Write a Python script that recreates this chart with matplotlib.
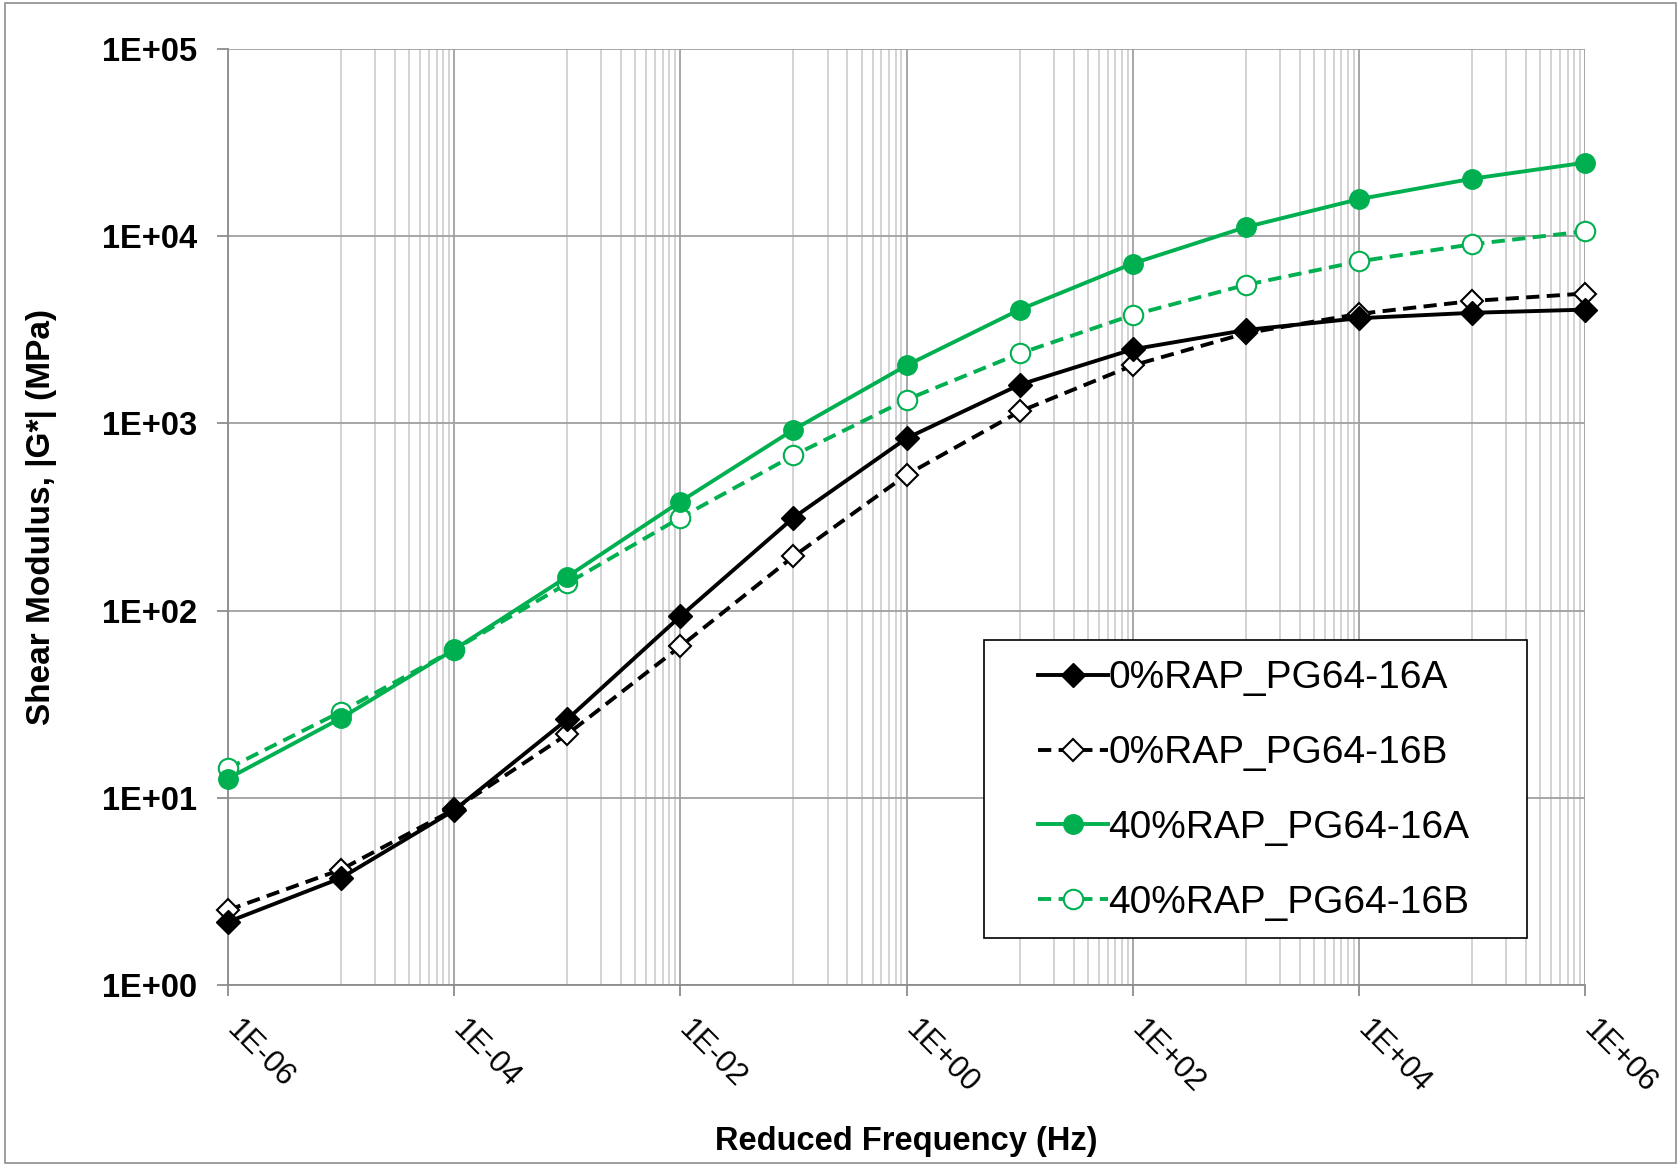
#!/usr/bin/env python3
"""
Shear modulus master curves, |G*| vs reduced frequency.
"""

import matplotlib
matplotlib.use("Agg")
import matplotlib.pyplot as plt
from matplotlib.patches import Rectangle
from matplotlib.ticker import FixedLocator, NullFormatter


GREEN = "#00B050"

freq_hz = [1e-6, 1e-5, 1e-4, 1e-3, 1e-2, 1e-1, 1e0, 1e1, 1e2, 1e3, 1e4, 1e5, 1e6]

g_0rap_a = [2.18, 3.74, 8.6, 26.3, 93.4, 314, 834, 1611, 2489, 3157, 3650, 3900, 4055]
g_0rap_b = [2.52, 4.15, 8.7, 21.9, 64.5, 195, 532, 1159, 2042, 3034, 3850, 4510, 4944]
g_40rap_a = [12.7, 26.7, 62.1, 152, 383, 926, 2043, 4055, 7150, 11190, 15780, 20280, 24720]
g_40rap_b = [14.4, 28.9, 62.0, 140, 314, 675, 1341, 2365, 3800, 5500, 7340, 9060, 10620]

x_major_exp = [-6, -4, -2, 0, 2, 4, 6]
y_major_exp = [0, 1, 2, 3, 4, 5]


def e_label(e: int) -> str:
    return f"1E{e:+03d}"


def main() -> None:
    plt.rcParams["font.family"] = ["Liberation Sans", "DejaVu Sans"]

    fig = plt.figure(figsize=(16.81, 11.66), dpi=100)
    ax = fig.add_axes([0.1356, 0.155, 0.8074, 0.803])

    # chart-area border like the spreadsheet export
    fig.patches.append(Rectangle((0.003, 0.003), 0.994, 0.994, transform=fig.transFigure,
                                 fill=False, edgecolor="#8c8c8c", linewidth=1.2))

    ax.set_xscale("log")
    ax.set_yscale("log")
    ax.set_xlim(1e-6, 1e6)
    ax.set_ylim(1, 1e5)

    # major ticks every two decades, minor grid 1..9 x the odd decade in between
    ax.xaxis.set_major_locator(FixedLocator([10.0 ** e for e in x_major_exp]))
    ax.xaxis.set_major_formatter(NullFormatter())
    minor = []
    for e in x_major_exp[:-1]:
        minor += [k * 10.0 ** (e + 1) for k in range(1, 10)]
    ax.xaxis.set_minor_locator(FixedLocator(minor))
    ax.xaxis.set_minor_formatter(NullFormatter())

    ax.yaxis.set_major_locator(FixedLocator([10.0 ** e for e in y_major_exp]))
    ax.set_yticklabels([e_label(e) for e in y_major_exp])
    ax.yaxis.set_minor_locator(FixedLocator([]))

    ax.grid(True, which="major", color="#a0a0a0", linewidth=1.3)
    ax.grid(True, which="minor", axis="x", color="#c8c8c8", linewidth=1.1)
    ax.set_axisbelow(True)

    for side in ("top", "right"):
        ax.spines[side].set_visible(False)
    for side in ("left", "bottom"):
        ax.spines[side].set_color("#8c8c8c")
        ax.spines[side].set_linewidth(1.3)

    ax.tick_params(axis="both", which="major", direction="out", length=8, width=1.3,
                   color="#8c8c8c")
    ax.tick_params(axis="y", labelsize=23.5, pad=14)
    ax.tick_params(axis="x", which="minor", length=0)
    for lbl in ax.get_yticklabels():
        lbl.set_fontweight("bold")

    # slanted x labels hanging from the tick
    for e in x_major_exp:
        ax.annotate(e_label(e), xy=(10.0 ** e, 0), xycoords=("data", "axes fraction"),
                    xytext=(10, -21), textcoords="offset points", fontsize=22,
                    rotation=-45, ha="left", va="top", rotation_mode="anchor",
                    annotation_clip=False)

    lw = 2.8
    dash = (3.4, 1.9)
    ax.plot(freq_hz, g_0rap_a, "-", color="black", linewidth=lw, marker="D", markersize=12,
            markerfacecolor="black", markeredgecolor="black", clip_on=False, zorder=4,
            label="0%RAP_PG64-16A")
    ax.plot(freq_hz, g_0rap_b, "--", color="black", linewidth=lw, dashes=dash, marker="D",
            markersize=11, markerfacecolor="white", markeredgecolor="black", markeredgewidth=1.5,
            clip_on=False, zorder=3, label="0%RAP_PG64-16B")
    ax.plot(freq_hz, g_40rap_a, "-", color=GREEN, linewidth=lw, marker="o", markersize=14,
            markerfacecolor=GREEN, markeredgecolor=GREEN, clip_on=False, zorder=4,
            label="40%RAP_PG64-16A")
    ax.plot(freq_hz, g_40rap_b, "--", color=GREEN, linewidth=lw, dashes=dash, marker="o",
            markersize=14, markerfacecolor="white", markeredgecolor=GREEN, markeredgewidth=1.5,
            clip_on=False, zorder=3, label="40%RAP_PG64-16B")

    ax.set_xlabel("Reduced Frequency (Hz)", fontsize=23.5, fontweight="bold", labelpad=0)
    ax.xaxis.set_label_coords(0.5, -0.150)
    ax.set_ylabel("Shear Modulus, |G*| (MPa)", fontsize=24, fontweight="bold")
    ax.yaxis.set_label_coords(-0.126, 0.5)

    # legend frame drawn separately so the padding can match the source
    fig.patches.append(Rectangle((0.5854, 0.1955), 0.323, 0.2556, transform=fig.transFigure,
                                 facecolor="white", edgecolor="black", linewidth=1.2,
                                 zorder=5))
    leg = fig.legend(*ax.get_legend_handles_labels(), loc="upper left",
                     bbox_to_anchor=(0.6175, 0.4337), bbox_transform=fig.transFigure,
                     fontsize=28, frameon=False, handlelength=1.8, handletextpad=0.0,
                     labelspacing=1.0, borderpad=0, borderaxespad=0)
    leg.set_zorder(6)

    fig.savefig("out.png", dpi=100)
    plt.close(fig)


if __name__ == "__main__":
    main()
